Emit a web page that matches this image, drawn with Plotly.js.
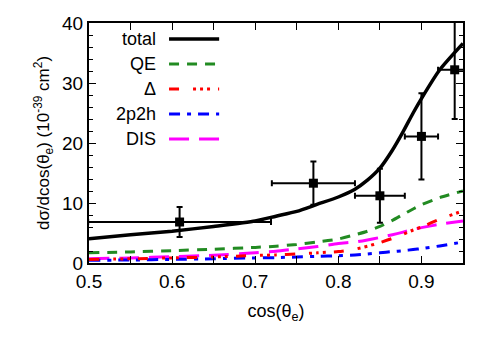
<!DOCTYPE html>
<html>
<head>
    <meta charset="UTF-8">
    <title>Cross section vs cos theta</title>
    <script src="https://cdn.plot.ly/plotly-3.0.1.min.js"></script>
    <style>
        body { margin: 0; background: white; }
        #plot { width: 498px; height: 344px; }
    </style>
</head>
<body>
    <div id="plot"></div>
    <script>
        // model curves
        const cosX = [0.5, 0.55, 0.6, 0.65, 0.7, 0.725, 0.75, 0.775, 0.8, 0.82, 0.835, 0.85, 0.865, 0.878, 0.89, 0.9, 0.922, 0.95];
        const totalY = [4.05, 4.7, 5.3, 6.1, 7.0, 7.8, 8.6, 9.8, 11.0, 12.3, 13.8, 15.8, 18.8, 21.9, 25.0, 27.4, 32.2, 36.6];
        const qeY = [1.7, 1.85, 2.05, 2.3, 2.6, 2.8, 3.1, 3.5, 4.0, 4.7, 5.3, 6.1, 7.1, 8.1, 9.0, 9.7, 10.9, 12.0];
        const deltaY = [0.6, 0.7, 0.85, 1.0, 1.25, 1.35, 1.5, 1.7, 1.9, 2.3, 2.8, 3.4, 4.1, 4.8, 5.5, 6.0, 7.3, 8.7];
        const np2hY = [0.45, 0.5, 0.6, 0.7, 0.85, 0.9, 1.0, 1.1, 1.2, 1.35, 1.5, 1.7, 1.9, 2.05, 2.25, 2.4, 2.85, 3.5];
        const disY = [0.72, 0.85, 1.05, 1.3, 1.7, 1.95, 2.35, 2.75, 3.25, 3.5, 3.85, 4.25, 4.7, 5.15, 5.6, 5.9, 6.45, 7.0];

        // measured points
        const dataX = [0.609, 0.77, 0.85, 0.90, 0.94];
        const dataY = [6.83, 13.3, 11.2, 21.1, 32.2];
        const dataXErr = [0.11, 0.05, 0.03, 0.02, 0.02];
        const dataYErr = [2.5, 3.6, 4.5, 7.2, 8.2];

        const series = [
            { name: 'total', y: totalY, color: '#000000', width: 3.5, dash: 'solid' },
            { name: 'QE', y: qeY, color: '#228B22', width: 3, dash: '10px,8px' },
            { name: 'Δ', y: deltaY, color: '#ff0000', width: 3, dash: '10px,14px,3px,4px,3px,4px,3px,8px' },
            { name: '2p2h', y: np2hY, color: '#0000ff', width: 3, dash: '11px,7px,4px,7px' },
            { name: 'DIS', y: disY, color: '#ff00ff', width: 3, dash: '20px,10px' }
        ];

        const font = 'Liberation Sans, Arial, sans-serif';

        const traces = series.slice().reverse().map(s => ({
            x: cosX,
            y: s.y,
            type: 'scatter',
            mode: 'lines',
            name: s.name,
            line: { color: s.color, width: s.width, dash: s.dash, shape: 'spline', smoothing: 0.6 },
            showlegend: false
        }));

        traces.push({
            x: dataX,
            y: dataY,
            type: 'scatter',
            mode: 'markers',
            marker: { symbol: 'square', size: 9, color: 'black' },
            error_x: { type: 'data', array: dataXErr, color: 'black', thickness: 2, width: 3 },
            error_y: { type: 'data', array: dataYErr, color: 'black', thickness: 2, width: 3 },
            showlegend: false
        });

        // legend drawn gnuplot-style: label on the left, sample on the right
        const annotations = [];
        const shapes = [];
        series.forEach((s, i) => {
            const yy = 0.933 - i * 0.104;
            annotations.push({
                xref: 'paper', yref: 'paper', x: 0.184, y: yy,
                xanchor: 'right', yanchor: 'middle', showarrow: false,
                text: s.name, font: { family: font, size: 18, color: 'black' }
            });
            shapes.push({
                type: 'line', xref: 'paper', yref: 'paper',
                x0: 0.214, x1: 0.348, y0: yy, y1: yy,
                line: { color: s.color, width: s.width, dash: s.dash }
            });
        });

        const axisCommon = {
            showgrid: false,
            zeroline: false,
            showline: true,
            linecolor: 'black',
            linewidth: 2,
            mirror: 'ticks',
            ticks: 'inside',
            ticklen: 7,
            tickwidth: 1,
            tickcolor: 'black',
            tickfont: { family: font, size: 19, color: 'black' }
        };

        const layout = {
            width: 498,
            height: 344,
            margin: { l: 89, r: 35, t: 23, b: 81 },
            paper_bgcolor: 'white',
            plot_bgcolor: 'white',
            font: { family: font, size: 18, color: 'black' },
            showlegend: false,
            xaxis: Object.assign({}, axisCommon, {
                range: [0.5, 0.95],
                tick0: 0.5,
                dtick: 0.1,
                minor: { dtick: 0.05, ticks: 'inside', ticklen: 7, tickcolor: 'black', tickwidth: 1 },
                title: { text: 'cos(θ<sub>e</sub>)', font: { family: font, size: 18 }, standoff: 14 }
            }),
            yaxis: Object.assign({}, axisCommon, {
                range: [0, 40],
                tick0: 0,
                dtick: 10,
                minor: { dtick: 2, ticks: 'inside', ticklen: 4, tickcolor: 'black', tickwidth: 1 },
                title: { text: 'dσ/dcos(θ<sub>e</sub>) (10<sup>-39</sup> cm<sup>2</sup>)', font: { family: font, size: 17 }, standoff: 8 }
            }),
            annotations: annotations,
            shapes: shapes
        };

        Plotly.newPlot('plot', traces, layout, { staticPlot: true, displayModeBar: false });
    </script>
</body>
</html>
